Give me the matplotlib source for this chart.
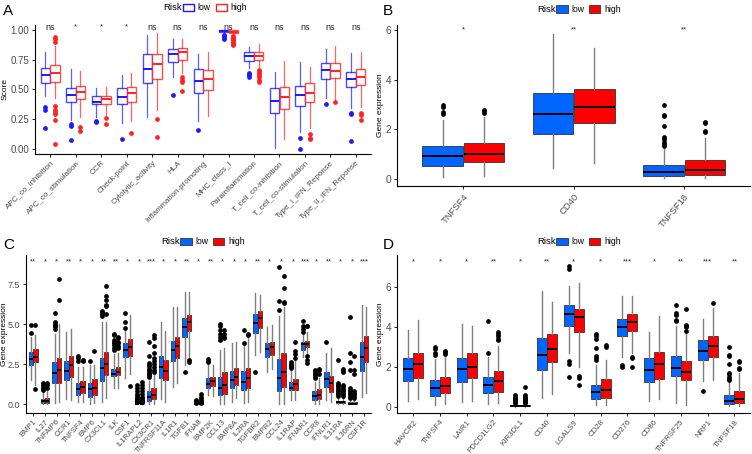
import numpy as np
import matplotlib
matplotlib.use("Agg")
import matplotlib.pyplot as plt
from matplotlib.patches import Patch

plt.rcParams["font.family"] = ["Liberation Sans", "DejaVu Sans"]

# ---------------- panel A: immune function scores ----------------
a_cats = ["APC_co_inhibition", "APC_co_stimulation", "CCR", "Check-point", "Cytolytic_activity", "HLA",
          "Inflammation-promoting", "MHC_class_I", "Parainflammation", "T_cell_co-inhibition",
          "T_cell_co-stimulation", "Type_I_IFN_Reponse", "Type_II_IFN_Reponse"]
a_sig = ["ns", "*", "*", "*", "ns", "ns", "ns", "ns", "ns", "ns", "ns", "ns", "ns"]
# (whislo, q1, med, q3, whishi)
a_low = [(0.44, 0.556, 0.62, 0.676, 0.81), (0.24, 0.397, 0.452, 0.514, 0.67), (0.27, 0.374, 0.397, 0.44, 0.514),
         (0.215, 0.374, 0.433, 0.508, 0.617), (0.27, 0.55, 0.667, 0.793, 0.96), (0.60, 0.726, 0.793, 0.835, 0.922),
         (0.23, 0.472, 0.57, 0.67, 0.796), (0.965, 0.985, 0.99, 0.995, 1.0), (0.68, 0.74, 0.782, 0.816, 0.857),
         (0.01, 0.305, 0.402, 0.514, 0.648), (0.145, 0.36, 0.455, 0.53, 0.726), (0.425, 0.587, 0.662, 0.718, 0.838),
         (0.34, 0.517, 0.587, 0.648, 0.807)]
a_low_fl = [[0.355, 0.327, 0.173], [0.207, 0.195, 0.075], [0.23, 0.225], [0.084], [], [0.45], [0.162],
            [0.955, 0.945, 0.93, 0.92], [0.64, 0.63, 0.62, 0.60], [], [0.095, 0.0], [0.374], [0.304, 0.293, 0.064]]
a_high = [(0.43, 0.564, 0.634, 0.70, 0.86), (0.265, 0.416, 0.48, 0.53, 0.656), (0.285, 0.377, 0.419, 0.44, 0.517),
          (0.23, 0.394, 0.466, 0.522, 0.64), (0.33, 0.587, 0.712, 0.80, 0.97), (0.64, 0.75, 0.81, 0.85, 0.92),
          (0.277, 0.494, 0.587, 0.662, 0.816), (0.96, 0.975, 0.985, 0.995, 1.0), (0.69, 0.75, 0.78, 0.81, 0.877),
          (0.08, 0.338, 0.433, 0.522, 0.737), (0.173, 0.39, 0.472, 0.55, 0.69), (0.41, 0.592, 0.656, 0.718, 0.866),
          (0.35, 0.534, 0.606, 0.67, 0.816)]
a_high_fl = [[0.935, 0.92, 0.90, 0.36, 0.33, 0.31, 0.29, 0.24, 0.04], [0.187, 0.148], [0.257, 0.21], [0.137],
             [0.248, 0.10], [0.60, 0.578, 0.565, 0.49], [], [0.95, 0.94, 0.93, 0.92, 0.91, 0.90, 0.89, 0.88, 0.87],
             [0.66, 0.65, 0.64, 0.62, 0.60, 0.58, 0.56], [], [0.126, 0.09, 0.08], [0.397], [0.30, 0.285, 0.24]]

# ---------------- panel B ----------------
b_cats = ["TNFSF4", "CD40", "TNFSF18"]
b_sig = ["*", "**", "**"]
b_low = [(0.09, 0.536, 0.91, 1.34, 2.37), (0.43, 1.82, 2.61, 3.44, 5.81), (0.03, 0.12, 0.27, 0.56, 1.23)]
b_low_fl = [[2.97, 2.88, 2.68, 2.6], [], [2.97, 2.57, 2.53, 2.15, 1.70, 1.62, 1.50, 1.40, 1.32]]
b_high = [(0.12, 0.67, 1.03, 1.46, 2.5), (0.63, 2.26, 2.91, 3.62, 5.25), (0.03, 0.16, 0.36, 0.76, 1.67)]
b_high_fl = [[2.78, 2.72, 2.65], [], [2.3, 2.25, 1.93, 1.88]]

# ---------------- panel C ----------------
c_cats = ["BMP1", "IL27", "TNFAIP6", "CCR1", "TNFSF4", "BMP6", "CX3CL1", "ILK", "CSF1", "IL1RAPL2", "CX3CR1",
          "TNFRSF11A", "IL1R1", "TGFB1", "IFNA8", "BMP2K", "CCL13", "BMP8A", "IL2RA", "TGFBR2", "BMPR2", "CCL24",
          "IL1RAP", "IFNAR1", "CCR8", "IFNLR1", "IL31RA", "IL36RN", "CSF1R"]
c_sig = ["**", "*", "*", "**", "*", "*", "**", "**", "*", "*", "***", "*", "*", "**", "*", "**", "*", "*", "*",
         "**", "*", "*", "*", "***", "*", "**", "*", "*", "***"]
c_low = [(1.5, 2.44, 2.79, 3.27, 4.2), (0.0, 0.08, 0.19, 0.29, 0.77), (0.04, 1.29, 1.92, 2.6, 4.4),
         (0.3, 1.5, 2.08, 2.7, 4.5), (0.1, 0.56, 0.92, 1.3, 2.33), (0.0, 0.42, 0.92, 1.3, 2.44),
         (0.15, 1.46, 2.23, 2.9, 5.1), (1.0, 1.77, 1.88, 2.19, 3.1), (1.6, 2.96, 3.38, 3.83, 4.56),
         (0.0, 0.0, 0.01, 0.03, 0.07), (0.0, 0.2, 0.46, 0.83, 1.46), (0.3, 1.6, 2.29, 3.0, 5.15),
         (1.08, 2.69, 3.38, 3.96, 6.08), (2.44, 4.2, 4.83, 5.35, 7.02), (0.0, 0.0, 0.0, 0.02, 0.04),
         (0.56, 0.98, 1.27, 1.6, 2.44), (0.0, 0.56, 0.98, 1.67, 3.38), (0.15, 0.98, 1.5, 2.08, 3.8),
         (0.04, 0.88, 1.4, 2.08, 3.9), (3.06, 4.42, 5.08, 5.6, 6.92), (2.02, 2.96, 3.44, 3.79, 4.83),
         (0.0, 0.81, 1.6, 2.81, 5.5), (0.25, 0.88, 1.02, 1.4, 2.12), (2.96, 3.38, 3.75, 3.85, 4.35),
         (0.0, 0.25, 0.5, 0.83, 1.4), (0.25, 1.08, 1.56, 1.98, 3.17), (0.0, 0.04, 0.1, 0.2, 0.4),
         (0.0, 0.0, 0.03, 0.15, 0.35), (0.46, 2.08, 2.92, 3.85, 6.19)]
c_low_fl = [[4.94, 4.42], [1.3, 1.2, 1.05, 0.95, 0.9], [5.7, 5.1, 5.0, 4.9, 4.85, 4.7], [], [2.98, 2.88, 2.68],
            [2.7], [5.83, 5.75, 5.65, 5.5], [4.4, 4.3, 4.0, 3.9, 3.8, 3.7, 3.5, 3.4], [5.7, 5.1, 4.75],
            [1.2, 1.0, 0.8, 0.6, 0.5, 0.4, 0.3, 0.25, 0.2, 0.15, 0.1],
            [3.9, 3.0, 2.55, 2.45, 2.35, 2.2, 2.1, 2.0, 1.9, 1.8, 1.7], [], [], [2.0],
            [0.25, 0.2, 0.15, 0.1, 0.07], [2.8, 2.7, 2.65], [5.0, 4.9, 4.6, 4.4, 4.2, 4.0], [], [4.6, 3.8], [2.0], [],
            [8.56, 6.44, 5.85], [2.6, 2.5, 2.45, 2.4, 2.3, 2.25], [5.2, 4.9, 4.7, 4.5],
            [2.1, 2.0, 1.9, 1.8, 1.7, 1.6], [3.9], [2.75, 1.3, 1.2, 1.1, 1.0, 0.9, 0.8, 0.7, 0.6, 0.5],
            [5.45, 3.2, 2.6, 2.1, 1.0, 0.9, 0.8, 0.7, 0.6, 0.5, 0.4], []]
c_high = [(1.2, 2.65, 2.96, 3.42, 4.3), (0.0, 0.08, 0.21, 0.35, 0.83), (0.15, 1.29, 2.12, 2.85, 4.98),
          (0.25, 1.7, 2.44, 3.02, 4.7), (0.1, 0.7, 1.08, 1.44, 2.33), (0.08, 0.56, 0.98, 1.54, 2.44),
          (0.35, 1.81, 2.48, 3.23, 5.15), (0.98, 1.81, 1.98, 2.29, 3.2), (1.9, 3.0, 3.58, 4.06, 5.56),
          (0.0, 0.0, 0.01, 0.03, 0.07), (0.0, 0.31, 0.56, 0.98, 1.8), (0.15, 1.5, 2.08, 2.75, 4.56),
          (1.3, 2.9, 3.65, 4.17, 6.08), (2.96, 4.56, 5.1, 5.56, 7.02), (0.0, 0.0, 0.0, 0.02, 0.04),
          (0.5, 1.13, 1.46, 1.7, 2.44), (0.0, 0.63, 1.19, 1.98, 3.48), (0.35, 1.19, 1.71, 2.23, 3.9),
          (0.1, 1.02, 1.6, 2.27, 4.2), (3.27, 4.73, 5.35, 5.81, 6.81), (2.17, 3.06, 3.58, 3.9, 4.94),
          (0.0, 1.08, 2.02, 3.2, 6.08), (0.25, 0.88, 1.23, 1.56, 2.75), (3.1, 3.54, 3.75, 3.96, 4.5),
          (0.0, 0.31, 0.56, 0.94, 1.6), (0.15, 0.77, 1.29, 1.77, 3.48), (0.0, 0.05, 0.12, 0.2, 0.45),
          (0.0, 0.0, 0.03, 0.15, 0.35), (0.67, 2.65, 3.52, 4.25, 6.08)]
c_high_fl = [[4.94, 0.92], [1.3, 1.2, 1.0], [7.8, 6.5], [], [2.78, 2.7], [3.3],
             [7.4, 6.75, 6.5, 6.2, 6.1, 5.6], [4.2, 4.1, 3.9, 3.8, 3.6, 3.5], [1.15],
             [1.35, 1.2, 1.0, 0.8, 0.6, 0.45, 0.35, 0.25, 0.2, 0.15, 0.1],
             [4.3, 4.1, 3.6, 3.2, 2.9, 2.7, 2.5, 2.3, 2.1, 2.0], [], [], [2.75, 2.65],
             [0.6, 0.45, 0.3, 0.2, 0.1, 0.07], [], [4.6, 4.4, 4.2, 4.1], [], [4.4, 4.3], [], [],
             [8.0, 7.25, 6.35, 6.3], [3.9, 3.3, 3.1, 2.9], [4.9, 4.85, 3.0, 2.75, 2.55],
             [2.2, 2.1, 1.9], [], [2.2, 2.1, 2.0, 1.2, 1.1, 1.0, 0.9, 0.8, 0.7, 0.6, 0.5],
             [3.0, 2.1, 1.9, 0.8, 0.7, 0.6, 0.5, 0.4], []]

# ---------------- panel D ----------------
d_cats = ["HAVCR2", "TNFSF4", "LAIR1", "PDCD1LG2", "KIR3DL1", "CD40", "LGALS9", "CD28", "CD276", "CD86",
          "TNFRSF25", "NRP1", "TNFSF18"]
d_sig = ["*", "*", "*", "**", "*", "**", "*", "*", "***", "*", "**", "***", "**"]
d_low = [(0.3, 1.26, 1.89, 2.43, 3.85), (0.09, 0.55, 0.92, 1.34, 2.38), (0.25, 1.22, 1.88, 2.43, 4.14),
         (0.13, 0.67, 1.1, 1.47, 2.51), (0.0, 0.01, 0.04, 0.08, 0.15), (0.43, 1.82, 2.61, 3.44, 5.81),
         (2.68, 4.02, 4.64, 5.08, 6.03), (0.08, 0.39, 0.72, 1.09, 2.1), (2.51, 3.55, 3.99, 4.39, 5.56),
         (0.3, 1.22, 1.84, 2.46, 3.72), (0.17, 1.51, 1.96, 2.55, 4.02), (1.26, 2.35, 2.8, 3.35, 4.39),
         (0.03, 0.12, 0.27, 0.56, 1.23)]
d_low_fl = [[], [2.97, 2.88, 2.7, 2.6], [], [4.3, 2.7], [0.6, 0.5, 0.45, 0.4, 0.35, 0.3, 0.25, 0.2], [],
            [7.05, 6.9, 2.3, 2.15, 1.5], [3.65, 3.55, 3.4, 2.95, 2.55, 2.45, 2.35], [2.1, 2.0], [],
            [5.1, 4.7, 4.6, 4.35, 4.3], [0.8], [2.97, 2.57, 2.53, 2.15, 1.70, 1.62, 1.50, 1.40, 1.32]]
d_high = [(0.39, 1.42, 2.13, 2.71, 4.36), (0.12, 0.7, 1.04, 1.47, 2.5), (0.3, 1.42, 2.01, 2.68, 4.02),
          (0.17, 0.75, 1.26, 1.81, 3.02), (0.0, 0.01, 0.04, 0.08, 0.15), (0.63, 2.26, 2.91, 3.62, 5.25),
          (2.01, 3.72, 4.49, 4.91, 6.2), (0.08, 0.42, 0.84, 1.39, 2.35), (2.71, 3.8, 4.24, 4.64, 5.56),
          (0.39, 1.39, 2.13, 2.75, 4.56), (0.08, 1.34, 1.76, 2.3, 3.69), (1.34, 2.51, 3.05, 3.55, 4.94),
          (0.03, 0.16, 0.36, 0.76, 1.67)]
d_high_fl = [[], [2.78, 2.72, 2.65], [], [3.75, 3.65, 3.55, 3.4, 3.35],
             [1.0, 0.6, 0.5, 0.45, 0.4, 0.35, 0.3, 0.25, 0.2], [], [1.55, 1.45, 1.1], [3.1, 3.0],
             [2.5, 2.45, 2.0], [], [4.9, 4.1, 4.05, 4.0, 3.8], [5.2], [2.3, 2.25, 1.93, 1.88]]

BLUE_A, RED_A = "#1a1aff", "#ff2222"
BLUE, RED = "#0066ff", "#ff0000"


def draw_boxes(ax, stats, fliers, pos, color, filled):
    bs = [dict(whislo=s[0], q1=s[1], med=s[2], q3=s[3], whishi=s[4], fliers=f) for s, f in zip(stats, fliers)]
    if filled:
        ax.bxp(bs, positions=pos, widths=0.37, patch_artist=True, showcaps=False,
               boxprops=dict(facecolor=color, edgecolor="#333333", linewidth=0.6),
               whiskerprops=dict(color="#7f7f7f", linewidth=1.0),
               medianprops=dict(color="black", linewidth=1.4),
               flierprops=dict(marker="o", markerfacecolor="black", markeredgecolor="black", markersize=2.4))
    else:
        ax.bxp(bs, positions=pos, widths=0.37, patch_artist=True, showcaps=False,
               boxprops=dict(facecolor="white", edgecolor=color, linewidth=1.0, alpha=0.8),
               whiskerprops=dict(color=color, linewidth=0.9, alpha=0.7),
               medianprops=dict(color=color, linewidth=1.4),
               flierprops=dict(marker="o", markerfacecolor=color, markeredgecolor=color, markersize=2.4))


def panel(ax, cats, low, low_fl, high, high_fl, sig, sig_y, ylim, yticks, ylabel, filled, xfs, rot, yfs, ylab_x):
    x = np.arange(1, len(cats) + 1)
    cl, ch = (BLUE, RED) if filled else (BLUE_A, RED_A)
    draw_boxes(ax, low, low_fl, x - 0.1875, cl, filled)
    draw_boxes(ax, high, high_fl, x + 0.1875, ch, filled)
    for xi, s in zip(x, sig):
        ax.text(xi, sig_y, s, ha="center", va="center", fontsize=6.5 if s == "ns" else 5.5, color="#222222")
    ax.set_xlim(0.4, len(cats) + 0.6)
    ax.set_ylim(*ylim)
    ax.set_yticks(yticks)
    ax.set_xticks(x)
    ax.set_xticklabels(cats, rotation=rot, ha="right", rotation_mode="anchor", fontsize=xfs, color="#4d4d4d")
    ax.tick_params(axis="y", labelsize=yfs, labelcolor="#4d4d4d", length=2.5, width=0.6, pad=1.5)
    ax.tick_params(axis="x", length=2.5, width=0.6, pad=1.5)
    ax.set_ylabel(ylabel, fontsize=6.0, va="center")
    ax.yaxis.set_label_coords(ylab_x, 0.5)
    for sp in ["top", "right"]:
        ax.spines[sp].set_visible(False)
    for sp in ["left", "bottom"]:
        ax.spines[sp].set_linewidth(0.8)


def legend(fig, x, y, filled):
    cl, ch = (BLUE, RED) if filled else (BLUE_A, RED_A)
    if filled:
        hs = [Patch(facecolor=cl, edgecolor="#333333", linewidth=0.6),
              Patch(facecolor=ch, edgecolor="#333333", linewidth=0.6)]
    else:
        hs = [Patch(facecolor="white", edgecolor=cl, linewidth=1.0),
              Patch(facecolor="white", edgecolor=ch, linewidth=1.0)]
    fig.text(x, y, "Risk", fontsize=6.8, va="center", ha="left")
    fig.legend(hs, ["low", "high"], loc="center left", bbox_to_anchor=(x + 0.026, y), ncol=2, frameon=False,
               fontsize=6.2, handlelength=1.3, handleheight=0.9, columnspacing=0.6, handletextpad=0.4,
               borderpad=0, borderaxespad=0)


fig = plt.figure(figsize=(7.52, 4.54), dpi=100)
axA = fig.add_axes([0.0465, 0.661, 0.447, 0.284])
axB = fig.add_axes([0.528, 0.590, 0.470, 0.355])
axC = fig.add_axes([0.0346, 0.091, 0.459, 0.347])
axD = fig.add_axes([0.528, 0.0903, 0.470, 0.348])

panel(axA, a_cats, a_low, a_low_fl, a_high, a_high_fl, a_sig, 1.02, (-0.042, 1.04),
      [0, 0.25, 0.5, 0.75, 1.0], "Score", False, 5.8, 45, 7, -0.088)
axA.set_yticklabels(["0.00", "0.25", "0.50", "0.75", "1.00"])
panel(axB, b_cats, b_low, b_low_fl, b_high, b_high_fl, b_sig, 6.0, (-0.28, 6.19),
      [0, 2, 4, 6], "Gene expression", True, 6.8, 50, 7.3, -0.046)
panel(axC, c_cats, c_low, c_low_fl, c_high, c_high_fl, c_sig, 8.9, (-0.54, 9.31),
      [0, 2.5, 5.0, 7.5], "Gene expression", True, 5.5, 47, 6.5, -0.061)
panel(axD, d_cats, d_low, d_low_fl, d_high, d_high_fl, d_sig, 7.26, (-0.32, 7.6),
      [0, 2, 4, 6], "Gene expression", True, 5.7, 50, 7.3, -0.046)
axB.set_xlim(0.4, 3.6)

for lab, xx, yy in [("A", 0.004, 0.975), ("B", 0.509, 0.975), ("C", 0.004, 0.46), ("D", 0.509, 0.46)]:
    fig.text(xx, yy, lab, fontsize=11, ha="left", va="center")

legend(fig, 0.217, 0.983, False)
legend(fig, 0.714, 0.979, True)
legend(fig, 0.214, 0.467, True)
legend(fig, 0.714, 0.467, True)

fig.savefig("out.png", dpi=100)
